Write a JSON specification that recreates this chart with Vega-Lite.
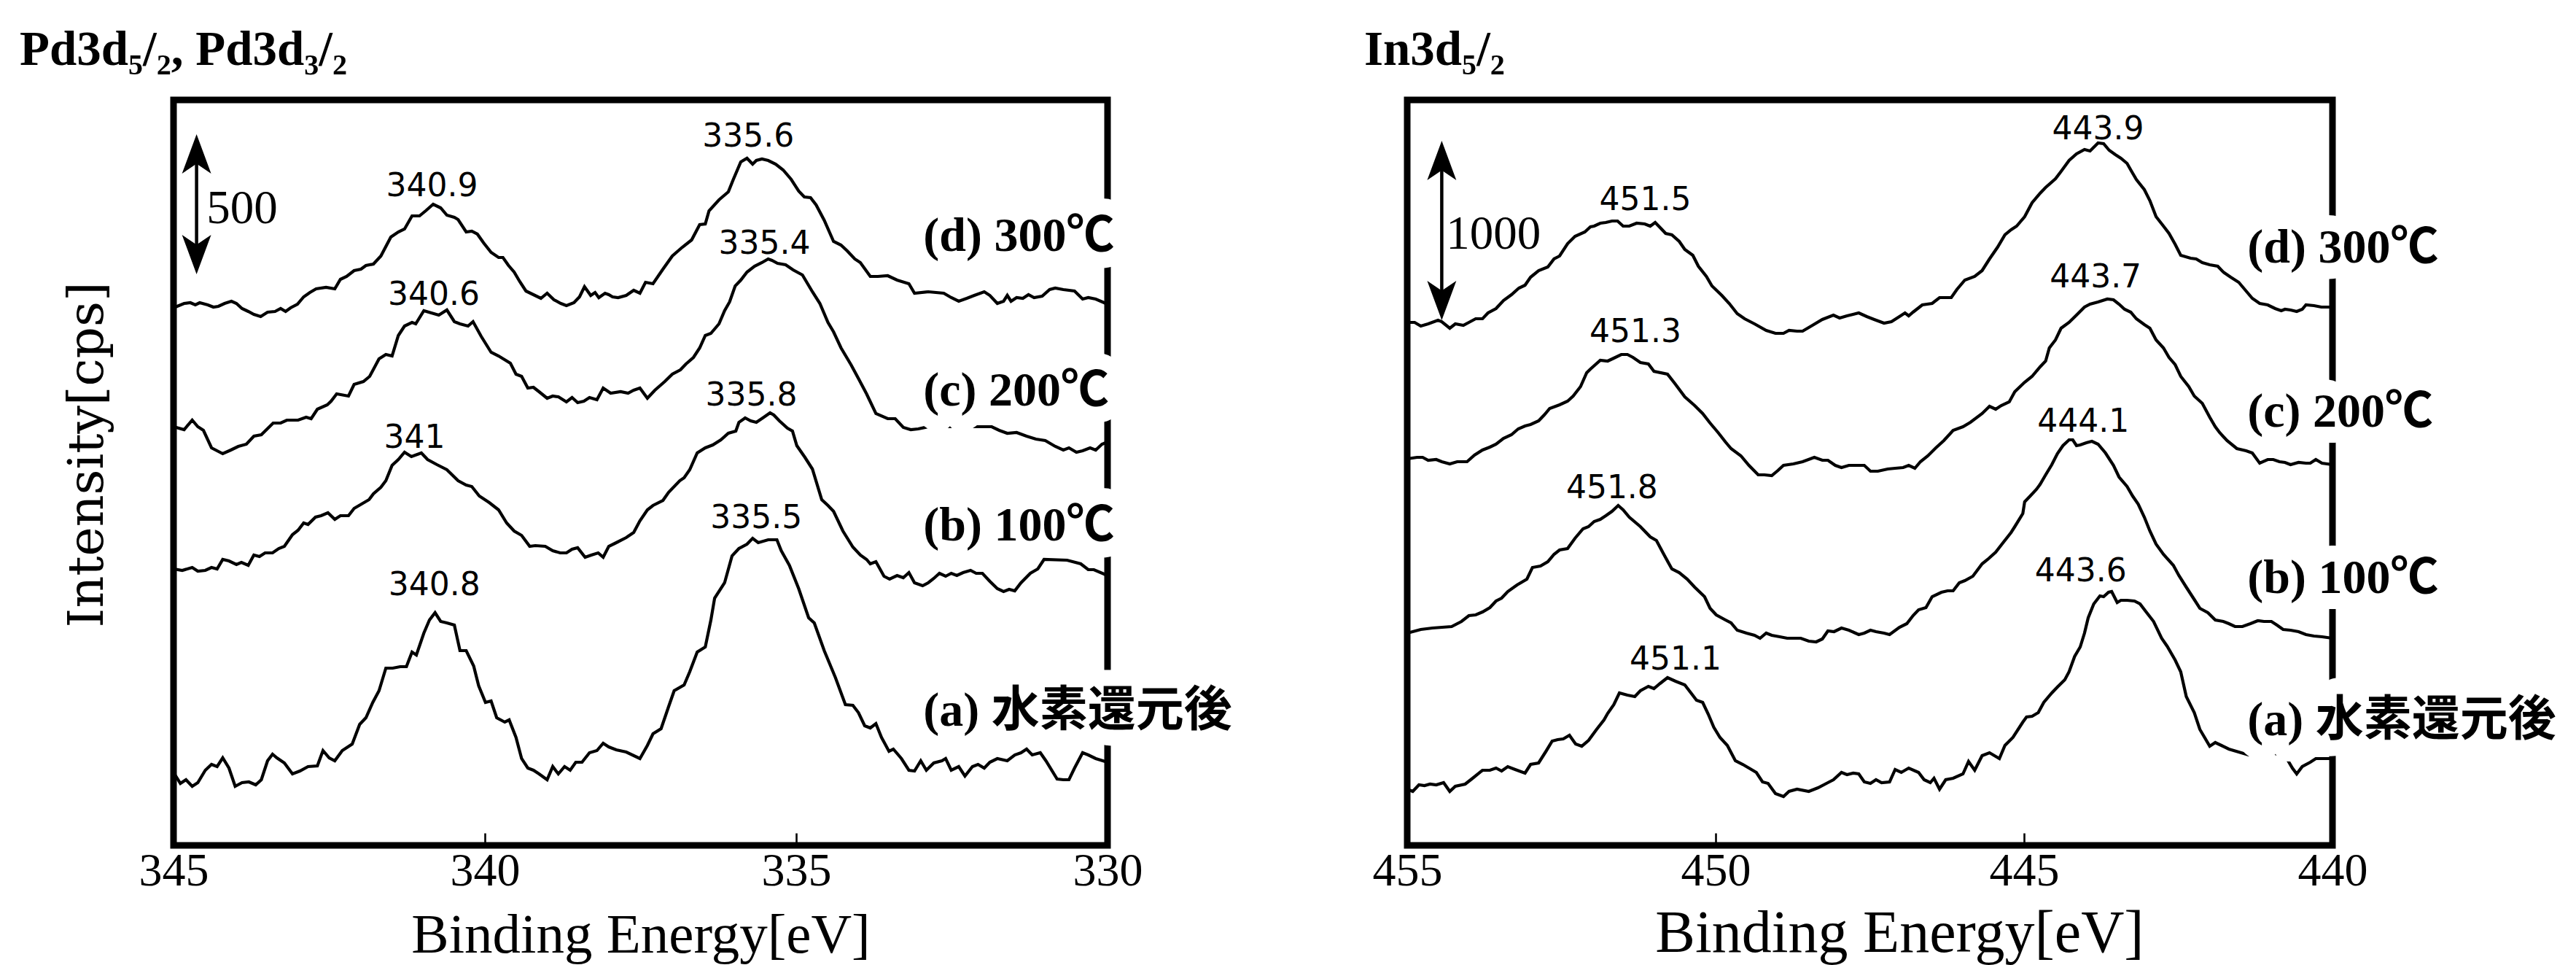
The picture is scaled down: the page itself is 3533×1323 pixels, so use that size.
{
"$schema":"https://vega.github.io/schema/vega-lite/v6.json",
"background":"white",
"padding":{"left":22,"top":30,"right":0,"bottom":0},
"config":{"view":{"stroke":"black","strokeWidth":9},"font":"Liberation Serif"},
"spacing":411,
"bounds":"flush",
"datasets":{
"pd":[
{"s":"d","e":345,"i":737},{"s":"d","e":344.83,"i":743},{"s":"d","e":344.73,"i":744},{"s":"d","e":344.65,"i":741},{"s":"d","e":344.58,"i":744},{"s":"d","e":344.45,"i":741},{"s":"d","e":344.36,"i":738},{"s":"d","e":344.28,"i":739},{"s":"d","e":344.18,"i":743},{"s":"d","e":344.07,"i":746},{"s":"d","e":343.99,"i":743},{"s":"d","e":343.9,"i":736},{"s":"d","e":343.8,"i":732},{"s":"d","e":343.71,"i":728},{"s":"d","e":343.6,"i":725},{"s":"d","e":343.49,"i":731},{"s":"d","e":343.37,"i":732},{"s":"d","e":343.28,"i":736},{"s":"d","e":343.2,"i":732},{"s":"d","e":343.12,"i":737},{"s":"d","e":343.01,"i":742},{"s":"d","e":342.91,"i":752},{"s":"d","e":342.81,"i":758},{"s":"d","e":342.71,"i":763},{"s":"d","e":342.55,"i":765},{"s":"d","e":342.41,"i":763},{"s":"d","e":342.32,"i":776},{"s":"d","e":342.22,"i":780},{"s":"d","e":342.1,"i":788},{"s":"d","e":341.99,"i":790},{"s":"d","e":341.91,"i":795},{"s":"d","e":341.79,"i":797},{"s":"d","e":341.67,"i":808},{"s":"d","e":341.51,"i":834},{"s":"d","e":341.39,"i":841},{"s":"d","e":341.29,"i":845},{"s":"d","e":341.17,"i":863},{"s":"d","e":341.05,"i":863},{"s":"d","e":340.95,"i":870},{"s":"d","e":340.83,"i":879},{"s":"d","e":340.71,"i":874},{"s":"d","e":340.61,"i":864},{"s":"d","e":340.49,"i":861},{"s":"d","e":340.43,"i":858},{"s":"d","e":340.3,"i":841},{"s":"d","e":340.21,"i":842},{"s":"d","e":340.12,"i":838},{"s":"d","e":340.02,"i":826},{"s":"d","e":339.9,"i":813},{"s":"d","e":339.78,"i":806},{"s":"d","e":339.71,"i":806},{"s":"d","e":339.62,"i":795},{"s":"d","e":339.53,"i":786},{"s":"d","e":339.44,"i":773},{"s":"d","e":339.34,"i":760},{"s":"d","e":339.22,"i":755},{"s":"d","e":339.1,"i":750},{"s":"d","e":339,"i":757},{"s":"d","e":338.89,"i":748},{"s":"d","e":338.78,"i":743},{"s":"d","e":338.69,"i":740},{"s":"d","e":338.57,"i":744},{"s":"d","e":338.48,"i":752},{"s":"d","e":338.4,"i":766},{"s":"d","e":338.3,"i":754},{"s":"d","e":338.23,"i":758},{"s":"d","e":338.17,"i":751},{"s":"d","e":338.07,"i":757},{"s":"d","e":338.01,"i":755},{"s":"d","e":337.95,"i":752},{"s":"d","e":337.86,"i":751},{"s":"d","e":337.73,"i":754},{"s":"d","e":337.61,"i":761},{"s":"d","e":337.51,"i":757},{"s":"d","e":337.42,"i":772},{"s":"d","e":337.3,"i":770},{"s":"d","e":337.14,"i":790},{"s":"d","e":336.99,"i":808},{"s":"d","e":336.83,"i":820},{"s":"d","e":336.68,"i":830},{"s":"d","e":336.55,"i":851},{"s":"d","e":336.46,"i":852},{"s":"d","e":336.4,"i":870},{"s":"d","e":336.24,"i":885},{"s":"d","e":336.09,"i":896},{"s":"d","e":336.01,"i":913},{"s":"d","e":335.89,"i":937},{"s":"d","e":335.79,"i":942},{"s":"d","e":335.7,"i":934},{"s":"d","e":335.64,"i":939},{"s":"d","e":335.55,"i":941},{"s":"d","e":335.45,"i":939},{"s":"d","e":335.33,"i":934},{"s":"d","e":335.21,"i":926},{"s":"d","e":335.08,"i":913},{"s":"d","e":334.96,"i":897},{"s":"d","e":334.87,"i":889},{"s":"d","e":334.77,"i":888},{"s":"d","e":334.68,"i":878},{"s":"d","e":334.55,"i":857},{"s":"d","e":334.4,"i":828},{"s":"d","e":334.28,"i":823},{"s":"d","e":334.18,"i":815},{"s":"d","e":334.06,"i":804},{"s":"d","e":333.97,"i":799},{"s":"d","e":333.81,"i":780},{"s":"d","e":333.69,"i":780},{"s":"d","e":333.53,"i":781},{"s":"d","e":333.38,"i":775},{"s":"d","e":333.19,"i":770},{"s":"d","e":333.1,"i":757},{"s":"d","e":332.88,"i":759},{"s":"d","e":332.63,"i":757},{"s":"d","e":332.51,"i":751},{"s":"d","e":332.39,"i":746},{"s":"d","e":332.26,"i":750},{"s":"d","e":332.14,"i":754},{"s":"d","e":331.98,"i":759},{"s":"d","e":331.89,"i":754},{"s":"d","e":331.77,"i":743},{"s":"d","e":331.67,"i":746},{"s":"d","e":331.61,"i":754},{"s":"d","e":331.55,"i":746},{"s":"d","e":331.46,"i":751},{"s":"d","e":331.36,"i":750},{"s":"d","e":331.27,"i":755},{"s":"d","e":331.18,"i":751},{"s":"d","e":331.05,"i":753},{"s":"d","e":330.93,"i":762},{"s":"d","e":330.84,"i":764},{"s":"d","e":330.71,"i":762},{"s":"d","e":330.53,"i":760},{"s":"d","e":330.4,"i":749},{"s":"d","e":330.31,"i":751},{"s":"d","e":330.19,"i":749},{"s":"d","e":330,"i":742},
{"s":"c","e":345,"i":574},{"s":"c","e":344.83,"i":570},{"s":"c","e":344.7,"i":583},{"s":"c","e":344.61,"i":574},{"s":"c","e":344.52,"i":569},{"s":"c","e":344.39,"i":545},{"s":"c","e":344.21,"i":537},{"s":"c","e":344.08,"i":542},{"s":"c","e":343.96,"i":547},{"s":"c","e":343.83,"i":550},{"s":"c","e":343.71,"i":561},{"s":"c","e":343.59,"i":563},{"s":"c","e":343.4,"i":579},{"s":"c","e":343.28,"i":579},{"s":"c","e":343.18,"i":583},{"s":"c","e":343,"i":583},{"s":"c","e":342.87,"i":587},{"s":"c","e":342.79,"i":585},{"s":"c","e":342.69,"i":598},{"s":"c","e":342.53,"i":604},{"s":"c","e":342.47,"i":609},{"s":"c","e":342.38,"i":619},{"s":"c","e":342.19,"i":616},{"s":"c","e":342.1,"i":632},{"s":"c","e":341.95,"i":636},{"s":"c","e":341.85,"i":643},{"s":"c","e":341.7,"i":667},{"s":"c","e":341.59,"i":673},{"s":"c","e":341.49,"i":671},{"s":"c","e":341.39,"i":699},{"s":"c","e":341.29,"i":712},{"s":"c","e":341.17,"i":717},{"s":"c","e":341.11,"i":715},{"s":"c","e":340.98,"i":733},{"s":"c","e":340.86,"i":730},{"s":"c","e":340.74,"i":727},{"s":"c","e":340.61,"i":734},{"s":"c","e":340.49,"i":718},{"s":"c","e":340.4,"i":715},{"s":"c","e":340.27,"i":712},{"s":"c","e":340.19,"i":718},{"s":"c","e":340.06,"i":698},{"s":"c","e":339.9,"i":676},{"s":"c","e":339.78,"i":671},{"s":"c","e":339.59,"i":661},{"s":"c","e":339.5,"i":646},{"s":"c","e":339.41,"i":643},{"s":"c","e":339.31,"i":627},{"s":"c","e":339.22,"i":628},{"s":"c","e":339.13,"i":622},{"s":"c","e":339,"i":613},{"s":"c","e":338.91,"i":616},{"s":"c","e":338.82,"i":615},{"s":"c","e":338.69,"i":608},{"s":"c","e":338.6,"i":614},{"s":"c","e":338.51,"i":607},{"s":"c","e":338.41,"i":609},{"s":"c","e":338.32,"i":614},{"s":"c","e":338.2,"i":611},{"s":"c","e":338.1,"i":627},{"s":"c","e":337.98,"i":620},{"s":"c","e":337.82,"i":622},{"s":"c","e":337.7,"i":620},{"s":"c","e":337.61,"i":624},{"s":"c","e":337.51,"i":627},{"s":"c","e":337.39,"i":613},{"s":"c","e":337.27,"i":624},{"s":"c","e":337.11,"i":636},{"s":"c","e":336.99,"i":646},{"s":"c","e":336.86,"i":652},{"s":"c","e":336.77,"i":660},{"s":"c","e":336.65,"i":669},{"s":"c","e":336.55,"i":682},{"s":"c","e":336.46,"i":699},{"s":"c","e":336.37,"i":702},{"s":"c","e":336.24,"i":715},{"s":"c","e":336.15,"i":733},{"s":"c","e":336.07,"i":745},{"s":"c","e":335.98,"i":767},{"s":"c","e":335.89,"i":775},{"s":"c","e":335.79,"i":786},{"s":"c","e":335.67,"i":794},{"s":"c","e":335.55,"i":799},{"s":"c","e":335.45,"i":804},{"s":"c","e":335.39,"i":802},{"s":"c","e":335.3,"i":798},{"s":"c","e":335.17,"i":796},{"s":"c","e":335.05,"i":789},{"s":"c","e":334.9,"i":782},{"s":"c","e":334.74,"i":759},{"s":"c","e":334.62,"i":743},{"s":"c","e":334.49,"i":717},{"s":"c","e":334.4,"i":704},{"s":"c","e":334.28,"i":682},{"s":"c","e":334.12,"i":659},{"s":"c","e":334,"i":640},{"s":"c","e":333.87,"i":619},{"s":"c","e":333.72,"i":592},{"s":"c","e":333.53,"i":585},{"s":"c","e":333.41,"i":585},{"s":"c","e":333.28,"i":573},{"s":"c","e":333.16,"i":570},{"s":"c","e":333.04,"i":571},{"s":"c","e":332.88,"i":574},{"s":"c","e":331.86,"i":574},{"s":"c","e":331.74,"i":569},{"s":"c","e":331.61,"i":565},{"s":"c","e":331.46,"i":566},{"s":"c","e":331.3,"i":561},{"s":"c","e":331.15,"i":557},{"s":"c","e":331,"i":555},{"s":"c","e":330.84,"i":547},{"s":"c","e":330.71,"i":542},{"s":"c","e":330.62,"i":545},{"s":"c","e":330.5,"i":539},{"s":"c","e":330.4,"i":541},{"s":"c","e":330.28,"i":545},{"s":"c","e":330.19,"i":542},{"s":"c","e":330.09,"i":550},{"s":"c","e":330,"i":553},
{"s":"b","e":345,"i":379},{"s":"b","e":344.86,"i":377},{"s":"b","e":344.7,"i":381},{"s":"b","e":344.61,"i":376},{"s":"b","e":344.49,"i":377},{"s":"b","e":344.39,"i":381},{"s":"b","e":344.3,"i":379},{"s":"b","e":344.21,"i":392},{"s":"b","e":344.11,"i":390},{"s":"b","e":343.99,"i":385},{"s":"b","e":343.91,"i":388},{"s":"b","e":343.8,"i":384},{"s":"b","e":343.71,"i":398},{"s":"b","e":343.62,"i":396},{"s":"b","e":343.53,"i":401},{"s":"b","e":343.41,"i":401},{"s":"b","e":343.31,"i":407},{"s":"b","e":343.22,"i":410},{"s":"b","e":343.09,"i":426},{"s":"b","e":343,"i":432},{"s":"b","e":342.91,"i":442},{"s":"b","e":342.84,"i":440},{"s":"b","e":342.72,"i":450},{"s":"b","e":342.63,"i":452},{"s":"b","e":342.52,"i":456},{"s":"b","e":342.41,"i":447},{"s":"b","e":342.32,"i":452},{"s":"b","e":342.19,"i":452},{"s":"b","e":342.1,"i":462},{"s":"b","e":341.98,"i":468},{"s":"b","e":341.86,"i":474},{"s":"b","e":341.79,"i":482},{"s":"b","e":341.67,"i":491},{"s":"b","e":341.59,"i":500},{"s":"b","e":341.49,"i":521},{"s":"b","e":341.39,"i":529},{"s":"b","e":341.29,"i":539},{"s":"b","e":341.18,"i":533},{"s":"b","e":341.02,"i":538},{"s":"b","e":340.92,"i":529},{"s":"b","e":340.77,"i":522},{"s":"b","e":340.61,"i":515},{"s":"b","e":340.43,"i":500},{"s":"b","e":340.3,"i":494},{"s":"b","e":340.21,"i":492},{"s":"b","e":340.09,"i":479},{"s":"b","e":339.93,"i":470},{"s":"b","e":339.78,"i":460},{"s":"b","e":339.65,"i":442},{"s":"b","e":339.53,"i":431},{"s":"b","e":339.41,"i":425},{"s":"b","e":339.28,"i":410},{"s":"b","e":339.19,"i":411},{"s":"b","e":339.03,"i":410},{"s":"b","e":338.91,"i":404},{"s":"b","e":338.79,"i":401},{"s":"b","e":338.69,"i":401},{"s":"b","e":338.6,"i":406},{"s":"b","e":338.51,"i":408},{"s":"b","e":338.39,"i":395},{"s":"b","e":338.29,"i":398},{"s":"b","e":338.18,"i":401},{"s":"b","e":338.1,"i":395},{"s":"b","e":338.01,"i":410},{"s":"b","e":337.89,"i":415},{"s":"b","e":337.73,"i":422},{"s":"b","e":337.61,"i":429},{"s":"b","e":337.51,"i":445},{"s":"b","e":337.39,"i":460},{"s":"b","e":337.3,"i":466},{"s":"b","e":337.14,"i":473},{"s":"b","e":337.05,"i":484},{"s":"b","e":336.87,"i":500},{"s":"b","e":336.8,"i":504},{"s":"b","e":336.71,"i":515},{"s":"b","e":336.59,"i":538},{"s":"b","e":336.46,"i":545},{"s":"b","e":336.34,"i":549},{"s":"b","e":336.21,"i":556},{"s":"b","e":336.09,"i":565},{"s":"b","e":335.97,"i":568},{"s":"b","e":335.92,"i":580},{"s":"b","e":335.82,"i":586},{"s":"b","e":335.73,"i":582},{"s":"b","e":335.64,"i":580},{"s":"b","e":335.52,"i":587},{"s":"b","e":335.42,"i":593},{"s":"b","e":335.36,"i":590},{"s":"b","e":335.27,"i":582},{"s":"b","e":335.14,"i":572},{"s":"b","e":335.06,"i":568},{"s":"b","e":334.99,"i":548},{"s":"b","e":334.86,"i":532},{"s":"b","e":334.74,"i":516},{"s":"b","e":334.59,"i":474},{"s":"b","e":334.49,"i":466},{"s":"b","e":334.4,"i":458},{"s":"b","e":334.25,"i":431},{"s":"b","e":334.09,"i":409},{"s":"b","e":333.97,"i":398},{"s":"b","e":333.87,"i":392},{"s":"b","e":333.81,"i":386},{"s":"b","e":333.72,"i":389},{"s":"b","e":333.59,"i":369},{"s":"b","e":333.5,"i":365},{"s":"b","e":333.38,"i":370},{"s":"b","e":333.28,"i":367},{"s":"b","e":333.19,"i":374},{"s":"b","e":333.1,"i":360},{"s":"b","e":332.97,"i":356},{"s":"b","e":332.88,"i":360},{"s":"b","e":332.79,"i":366},{"s":"b","e":332.7,"i":373},{"s":"b","e":332.6,"i":369},{"s":"b","e":332.51,"i":373},{"s":"b","e":332.42,"i":370},{"s":"b","e":332.32,"i":374},{"s":"b","e":332.2,"i":377},{"s":"b","e":332.11,"i":373},{"s":"b","e":332.01,"i":373},{"s":"b","e":331.89,"i":362},{"s":"b","e":331.77,"i":352},{"s":"b","e":331.67,"i":348},{"s":"b","e":331.58,"i":351},{"s":"b","e":331.49,"i":349},{"s":"b","e":331.39,"i":360},{"s":"b","e":331.24,"i":373},{"s":"b","e":331.12,"i":379},{"s":"b","e":331.02,"i":392},{"s":"b","e":330.65,"i":391},{"s":"b","e":330.43,"i":386},{"s":"b","e":330.31,"i":378},{"s":"b","e":330.22,"i":378},{"s":"b","e":330,"i":370},
{"s":"a","e":345,"i":100},{"s":"a","e":344.89,"i":85},{"s":"a","e":344.8,"i":90},{"s":"a","e":344.7,"i":81},{"s":"a","e":344.61,"i":86},{"s":"a","e":344.49,"i":103},{"s":"a","e":344.39,"i":111},{"s":"a","e":344.3,"i":108},{"s":"a","e":344.21,"i":120},{"s":"a","e":344.11,"i":106},{"s":"a","e":344.01,"i":81},{"s":"a","e":343.9,"i":86},{"s":"a","e":343.79,"i":87},{"s":"a","e":343.68,"i":83},{"s":"a","e":343.59,"i":90},{"s":"a","e":343.49,"i":116},{"s":"a","e":343.41,"i":125},{"s":"a","e":343.34,"i":120},{"s":"a","e":343.22,"i":113},{"s":"a","e":343.09,"i":98},{"s":"a","e":342.97,"i":102},{"s":"a","e":342.84,"i":108},{"s":"a","e":342.69,"i":109},{"s":"a","e":342.6,"i":130},{"s":"a","e":342.5,"i":120},{"s":"a","e":342.41,"i":116},{"s":"a","e":342.29,"i":130},{"s":"a","e":342.13,"i":139},{"s":"a","e":342.01,"i":166},{"s":"a","e":341.91,"i":175},{"s":"a","e":341.8,"i":196},{"s":"a","e":341.7,"i":212},{"s":"a","e":341.59,"i":243},{"s":"a","e":341.48,"i":243},{"s":"a","e":341.36,"i":245},{"s":"a","e":341.26,"i":245},{"s":"a","e":341.17,"i":265},{"s":"a","e":341.1,"i":261},{"s":"a","e":340.98,"i":291},{"s":"a","e":340.89,"i":309},{"s":"a","e":340.8,"i":319},{"s":"a","e":340.71,"i":307},{"s":"a","e":340.61,"i":305},{"s":"a","e":340.49,"i":302},{"s":"a","e":340.4,"i":267},{"s":"a","e":340.3,"i":267},{"s":"a","e":340.18,"i":246},{"s":"a","e":340.1,"i":219},{"s":"a","e":339.99,"i":196},{"s":"a","e":339.9,"i":198},{"s":"a","e":339.81,"i":175},{"s":"a","e":339.68,"i":169},{"s":"a","e":339.61,"i":172},{"s":"a","e":339.5,"i":148},{"s":"a","e":339.41,"i":119},{"s":"a","e":339.31,"i":106},{"s":"a","e":339.22,"i":103},{"s":"a","e":339.13,"i":98},{"s":"a","e":339,"i":90},{"s":"a","e":338.91,"i":108},{"s":"a","e":338.82,"i":98},{"s":"a","e":338.72,"i":108},{"s":"a","e":338.63,"i":103},{"s":"a","e":338.54,"i":114},{"s":"a","e":338.44,"i":114},{"s":"a","e":338.32,"i":127},{"s":"a","e":338.2,"i":130},{"s":"a","e":338.1,"i":140},{"s":"a","e":338.01,"i":135},{"s":"a","e":337.89,"i":131},{"s":"a","e":337.73,"i":128},{"s":"a","e":337.51,"i":119},{"s":"a","e":337.39,"i":137},{"s":"a","e":337.3,"i":153},{"s":"a","e":337.17,"i":160},{"s":"a","e":337.05,"i":190},{"s":"a","e":336.96,"i":212},{"s":"a","e":336.8,"i":220},{"s":"a","e":336.71,"i":238},{"s":"a","e":336.59,"i":265},{"s":"a","e":336.46,"i":272},{"s":"a","e":336.37,"i":309},{"s":"a","e":336.31,"i":339},{"s":"a","e":336.15,"i":360},{"s":"a","e":336.03,"i":397},{"s":"a","e":335.92,"i":407},{"s":"a","e":335.79,"i":413},{"s":"a","e":335.7,"i":421},{"s":"a","e":335.61,"i":415},{"s":"a","e":335.45,"i":419},{"s":"a","e":335.31,"i":419},{"s":"a","e":335.24,"i":404},{"s":"a","e":335.11,"i":384},{"s":"a","e":334.96,"i":352},{"s":"a","e":334.8,"i":312},{"s":"a","e":334.71,"i":305},{"s":"a","e":334.55,"i":267},{"s":"a","e":334.37,"i":230},{"s":"a","e":334.21,"i":193},{"s":"a","e":334.09,"i":192},{"s":"a","e":334,"i":182},{"s":"a","e":333.9,"i":164},{"s":"a","e":333.81,"i":161},{"s":"a","e":333.72,"i":167},{"s":"a","e":333.63,"i":148},{"s":"a","e":333.51,"i":129},{"s":"a","e":333.44,"i":132},{"s":"a","e":333.31,"i":119},{"s":"a","e":333.19,"i":103},{"s":"a","e":333.1,"i":102},{"s":"a","e":333,"i":116},{"s":"a","e":332.91,"i":103},{"s":"a","e":332.79,"i":113},{"s":"a","e":332.66,"i":116},{"s":"a","e":332.6,"i":119},{"s":"a","e":332.51,"i":103},{"s":"a","e":332.39,"i":108},{"s":"a","e":332.29,"i":95},{"s":"a","e":332.17,"i":108},{"s":"a","e":332.08,"i":111},{"s":"a","e":331.98,"i":106},{"s":"a","e":331.89,"i":114},{"s":"a","e":331.77,"i":119},{"s":"a","e":331.61,"i":116},{"s":"a","e":331.49,"i":124},{"s":"a","e":331.39,"i":127},{"s":"a","e":331.3,"i":132},{"s":"a","e":331.21,"i":124},{"s":"a","e":331.08,"i":127},{"s":"a","e":330.99,"i":116},{"s":"a","e":330.81,"i":91},{"s":"a","e":330.71,"i":90},{"s":"a","e":330.62,"i":90},{"s":"a","e":330.53,"i":106},{"s":"a","e":330.4,"i":127},{"s":"a","e":330.31,"i":124},{"s":"a","e":330.19,"i":119},{"s":"a","e":330,"i":114}
],
"ind":[
{"s":"d","e":455,"i":717},{"s":"d","e":454.88,"i":717},{"s":"d","e":454.78,"i":712},{"s":"d","e":454.66,"i":715},{"s":"d","e":454.5,"i":720},{"s":"d","e":454.44,"i":718},{"s":"d","e":454.31,"i":709},{"s":"d","e":454.22,"i":715},{"s":"d","e":454.09,"i":713},{"s":"d","e":454,"i":717},{"s":"d","e":453.89,"i":722},{"s":"d","e":453.78,"i":722},{"s":"d","e":453.69,"i":730},{"s":"d","e":453.56,"i":736},{"s":"d","e":453.44,"i":747},{"s":"d","e":453.31,"i":755},{"s":"d","e":453.19,"i":764},{"s":"d","e":453.09,"i":768},{"s":"d","e":453,"i":779},{"s":"d","e":452.87,"i":788},{"s":"d","e":452.72,"i":793},{"s":"d","e":452.62,"i":804},{"s":"d","e":452.53,"i":808},{"s":"d","e":452.4,"i":825},{"s":"d","e":452.28,"i":835},{"s":"d","e":452.12,"i":841},{"s":"d","e":452.03,"i":848},{"s":"d","e":451.97,"i":849},{"s":"d","e":451.87,"i":853},{"s":"d","e":451.78,"i":854},{"s":"d","e":451.68,"i":856},{"s":"d","e":451.59,"i":856},{"s":"d","e":451.5,"i":849},{"s":"d","e":451.4,"i":849},{"s":"d","e":451.28,"i":853},{"s":"d","e":451.15,"i":852},{"s":"d","e":451.06,"i":849},{"s":"d","e":450.98,"i":854},{"s":"d","e":450.9,"i":847},{"s":"d","e":450.81,"i":839},{"s":"d","e":450.71,"i":837},{"s":"d","e":450.59,"i":828},{"s":"d","e":450.5,"i":817},{"s":"d","e":450.37,"i":809},{"s":"d","e":450.28,"i":794},{"s":"d","e":450.15,"i":780},{"s":"d","e":450.06,"i":767},{"s":"d","e":449.9,"i":754},{"s":"d","e":449.78,"i":743},{"s":"d","e":449.65,"i":729},{"s":"d","e":449.53,"i":722},{"s":"d","e":449.37,"i":715},{"s":"d","e":449.18,"i":706},{"s":"d","e":449.03,"i":702},{"s":"d","e":448.9,"i":702},{"s":"d","e":448.81,"i":706},{"s":"d","e":448.68,"i":705},{"s":"d","e":448.59,"i":705},{"s":"d","e":448.43,"i":713},{"s":"d","e":448.27,"i":721},{"s":"d","e":448.09,"i":727},{"s":"d","e":447.99,"i":723},{"s":"d","e":447.87,"i":726},{"s":"d","e":447.68,"i":730},{"s":"d","e":447.55,"i":725},{"s":"d","e":447.43,"i":721},{"s":"d","e":447.27,"i":716},{"s":"d","e":447.15,"i":718},{"s":"d","e":447.02,"i":725},{"s":"d","e":446.93,"i":730},{"s":"d","e":446.87,"i":726},{"s":"d","e":446.8,"i":731},{"s":"d","e":446.65,"i":741},{"s":"d","e":446.49,"i":743},{"s":"d","e":446.37,"i":751},{"s":"d","e":446.18,"i":751},{"s":"d","e":446.09,"i":762},{"s":"d","e":445.96,"i":775},{"s":"d","e":445.8,"i":780},{"s":"d","e":445.68,"i":788},{"s":"d","e":445.56,"i":804},{"s":"d","e":445.43,"i":820},{"s":"d","e":445.31,"i":837},{"s":"d","e":445.21,"i":844},{"s":"d","e":445.12,"i":849},{"s":"d","e":444.99,"i":862},{"s":"d","e":444.87,"i":881},{"s":"d","e":444.74,"i":894},{"s":"d","e":444.65,"i":902},{"s":"d","e":444.49,"i":914},{"s":"d","e":444.4,"i":924},{"s":"d","e":444.27,"i":939},{"s":"d","e":444.15,"i":948},{"s":"d","e":444.02,"i":954},{"s":"d","e":443.93,"i":952},{"s":"d","e":443.8,"i":963},{"s":"d","e":443.71,"i":962},{"s":"d","e":443.62,"i":953},{"s":"d","e":443.52,"i":947},{"s":"d","e":443.43,"i":942},{"s":"d","e":443.33,"i":935},{"s":"d","e":443.27,"i":926},{"s":"d","e":443.18,"i":913},{"s":"d","e":443.05,"i":899},{"s":"d","e":442.96,"i":884},{"s":"d","e":442.86,"i":862},{"s":"d","e":442.74,"i":849},{"s":"d","e":442.65,"i":839},{"s":"d","e":442.55,"i":824},{"s":"d","e":442.46,"i":809},{"s":"d","e":442.3,"i":805},{"s":"d","e":442.21,"i":804},{"s":"d","e":442.11,"i":799},{"s":"d","e":441.99,"i":796},{"s":"d","e":441.86,"i":794},{"s":"d","e":441.77,"i":786},{"s":"d","e":441.65,"i":779},{"s":"d","e":441.52,"i":772},{"s":"d","e":441.43,"i":763},{"s":"d","e":441.3,"i":750},{"s":"d","e":441.18,"i":743},{"s":"d","e":441.05,"i":741},{"s":"d","e":440.93,"i":736},{"s":"d","e":440.83,"i":733},{"s":"d","e":440.77,"i":735},{"s":"d","e":440.68,"i":734},{"s":"d","e":440.58,"i":732},{"s":"d","e":440.49,"i":735},{"s":"d","e":440.43,"i":741},{"s":"d","e":440.3,"i":740},{"s":"d","e":440.18,"i":738},{"s":"d","e":440,"i":738},
{"s":"c","e":455,"i":530},{"s":"c","e":454.84,"i":532},{"s":"c","e":454.75,"i":532},{"s":"c","e":454.66,"i":528},{"s":"c","e":454.53,"i":529},{"s":"c","e":454.44,"i":526},{"s":"c","e":454.31,"i":523},{"s":"c","e":454.19,"i":526},{"s":"c","e":454.03,"i":526},{"s":"c","e":453.91,"i":535},{"s":"c","e":453.78,"i":542},{"s":"c","e":453.66,"i":546},{"s":"c","e":453.56,"i":550},{"s":"c","e":453.44,"i":558},{"s":"c","e":453.31,"i":563},{"s":"c","e":453.2,"i":571},{"s":"c","e":453.09,"i":575},{"s":"c","e":453,"i":577},{"s":"c","e":452.87,"i":582},{"s":"c","e":452.78,"i":590},{"s":"c","e":452.69,"i":599},{"s":"c","e":452.53,"i":604},{"s":"c","e":452.4,"i":609},{"s":"c","e":452.31,"i":616},{"s":"c","e":452.19,"i":629},{"s":"c","e":452.09,"i":648},{"s":"c","e":452.03,"i":653},{"s":"c","e":451.87,"i":665},{"s":"c","e":451.75,"i":664},{"s":"c","e":451.65,"i":668},{"s":"c","e":451.53,"i":673},{"s":"c","e":451.43,"i":673},{"s":"c","e":451.34,"i":669},{"s":"c","e":451.22,"i":662},{"s":"c","e":451.09,"i":660},{"s":"c","e":451,"i":650},{"s":"c","e":450.78,"i":646},{"s":"c","e":450.65,"i":632},{"s":"c","e":450.5,"i":615},{"s":"c","e":450.34,"i":603},{"s":"c","e":450.21,"i":592},{"s":"c","e":450.09,"i":579},{"s":"c","e":449.96,"i":566},{"s":"c","e":449.84,"i":553},{"s":"c","e":449.75,"i":544},{"s":"c","e":449.59,"i":534},{"s":"c","e":449.46,"i":521},{"s":"c","e":449.31,"i":508},{"s":"c","e":449.21,"i":508},{"s":"c","e":449.09,"i":507},{"s":"c","e":448.99,"i":514},{"s":"c","e":448.9,"i":521},{"s":"c","e":448.74,"i":523},{"s":"c","e":448.59,"i":526},{"s":"c","e":448.4,"i":532},{"s":"c","e":448.27,"i":528},{"s":"c","e":448.18,"i":528},{"s":"c","e":448.06,"i":521},{"s":"c","e":447.96,"i":518},{"s":"c","e":447.84,"i":521},{"s":"c","e":447.71,"i":521},{"s":"c","e":447.59,"i":521},{"s":"c","e":447.49,"i":513},{"s":"c","e":447.37,"i":513},{"s":"c","e":447.21,"i":516},{"s":"c","e":447.09,"i":517},{"s":"c","e":446.96,"i":518},{"s":"c","e":446.87,"i":521},{"s":"c","e":446.77,"i":517},{"s":"c","e":446.68,"i":526},{"s":"c","e":446.56,"i":534},{"s":"c","e":446.43,"i":545},{"s":"c","e":446.3,"i":555},{"s":"c","e":446.15,"i":569},{"s":"c","e":445.99,"i":574},{"s":"c","e":445.87,"i":580},{"s":"c","e":445.68,"i":592},{"s":"c","e":445.56,"i":602},{"s":"c","e":445.46,"i":598},{"s":"c","e":445.37,"i":603},{"s":"c","e":445.24,"i":608},{"s":"c","e":445.15,"i":622},{"s":"c","e":444.99,"i":635},{"s":"c","e":444.87,"i":643},{"s":"c","e":444.74,"i":656},{"s":"c","e":444.65,"i":664},{"s":"c","e":444.59,"i":682},{"s":"c","e":444.49,"i":693},{"s":"c","e":444.4,"i":709},{"s":"c","e":444.27,"i":717},{"s":"c","e":444.15,"i":727},{"s":"c","e":444.02,"i":738},{"s":"c","e":443.93,"i":742},{"s":"c","e":443.8,"i":745},{"s":"c","e":443.65,"i":749},{"s":"c","e":443.55,"i":748},{"s":"c","e":443.46,"i":742},{"s":"c","e":443.37,"i":735},{"s":"c","e":443.27,"i":731},{"s":"c","e":443.18,"i":722},{"s":"c","e":443.05,"i":714},{"s":"c","e":442.96,"i":709},{"s":"c","e":442.86,"i":693},{"s":"c","e":442.74,"i":682},{"s":"c","e":442.65,"i":669},{"s":"c","e":442.55,"i":659},{"s":"c","e":442.46,"i":643},{"s":"c","e":442.33,"i":629},{"s":"c","e":442.24,"i":616},{"s":"c","e":442.11,"i":606},{"s":"c","e":441.99,"i":587},{"s":"c","e":441.9,"i":574},{"s":"c","e":441.83,"i":566},{"s":"c","e":441.71,"i":555},{"s":"c","e":441.55,"i":544},{"s":"c","e":441.4,"i":541},{"s":"c","e":441.3,"i":538},{"s":"c","e":441.18,"i":524},{"s":"c","e":441.05,"i":529},{"s":"c","e":440.96,"i":529},{"s":"c","e":440.86,"i":526},{"s":"c","e":440.77,"i":525},{"s":"c","e":440.68,"i":522},{"s":"c","e":440.55,"i":525},{"s":"c","e":440.43,"i":524},{"s":"c","e":440.36,"i":524},{"s":"c","e":440.27,"i":529},{"s":"c","e":440.17,"i":524},{"s":"c","e":440,"i":522},
{"s":"b","e":455,"i":291},{"s":"b","e":454.78,"i":296},{"s":"b","e":454.59,"i":298},{"s":"b","e":454.28,"i":300},{"s":"b","e":454.12,"i":307},{"s":"b","e":454,"i":315},{"s":"b","e":453.89,"i":316},{"s":"b","e":453.78,"i":320},{"s":"b","e":453.66,"i":326},{"s":"b","e":453.56,"i":335},{"s":"b","e":453.47,"i":339},{"s":"b","e":453.37,"i":348},{"s":"b","e":453.22,"i":357},{"s":"b","e":453.06,"i":365},{"s":"b","e":452.97,"i":381},{"s":"b","e":452.84,"i":383},{"s":"b","e":452.72,"i":389},{"s":"b","e":452.62,"i":399},{"s":"b","e":452.53,"i":405},{"s":"b","e":452.4,"i":407},{"s":"b","e":452.28,"i":421},{"s":"b","e":452.15,"i":434},{"s":"b","e":452.06,"i":437},{"s":"b","e":451.97,"i":444},{"s":"b","e":451.87,"i":447},{"s":"b","e":451.78,"i":452},{"s":"b","e":451.68,"i":458},{"s":"b","e":451.58,"i":466},{"s":"b","e":451.5,"i":460},{"s":"b","e":451.4,"i":450},{"s":"b","e":451.22,"i":437},{"s":"b","e":451.06,"i":423},{"s":"b","e":450.96,"i":418},{"s":"b","e":450.84,"i":399},{"s":"b","e":450.71,"i":379},{"s":"b","e":450.59,"i":374},{"s":"b","e":450.46,"i":365},{"s":"b","e":450.34,"i":354},{"s":"b","e":450.18,"i":341},{"s":"b","e":450.09,"i":325},{"s":"b","e":449.99,"i":316},{"s":"b","e":449.84,"i":309},{"s":"b","e":449.75,"i":305},{"s":"b","e":449.65,"i":295},{"s":"b","e":449.5,"i":291},{"s":"b","e":449.37,"i":288},{"s":"b","e":449.28,"i":284},{"s":"b","e":449.18,"i":291},{"s":"b","e":449.09,"i":288},{"s":"b","e":448.96,"i":286},{"s":"b","e":448.84,"i":284},{"s":"b","e":448.71,"i":284},{"s":"b","e":448.62,"i":284},{"s":"b","e":448.49,"i":280},{"s":"b","e":448.37,"i":279},{"s":"b","e":448.27,"i":283},{"s":"b","e":448.18,"i":294},{"s":"b","e":448.08,"i":293},{"s":"b","e":447.96,"i":298},{"s":"b","e":447.84,"i":295},{"s":"b","e":447.68,"i":289},{"s":"b","e":447.59,"i":291},{"s":"b","e":447.49,"i":295},{"s":"b","e":447.4,"i":293},{"s":"b","e":447.27,"i":291},{"s":"b","e":447.18,"i":289},{"s":"b","e":447.02,"i":299},{"s":"b","e":446.9,"i":304},{"s":"b","e":446.8,"i":315},{"s":"b","e":446.71,"i":323},{"s":"b","e":446.59,"i":326},{"s":"b","e":446.49,"i":341},{"s":"b","e":446.34,"i":347},{"s":"b","e":446.24,"i":349},{"s":"b","e":446.15,"i":349},{"s":"b","e":446.05,"i":360},{"s":"b","e":445.96,"i":363},{"s":"b","e":445.83,"i":369},{"s":"b","e":445.68,"i":386},{"s":"b","e":445.59,"i":392},{"s":"b","e":445.46,"i":402},{"s":"b","e":445.34,"i":415},{"s":"b","e":445.21,"i":429},{"s":"b","e":445.15,"i":437},{"s":"b","e":445.02,"i":455},{"s":"b","e":444.99,"i":471},{"s":"b","e":444.9,"i":479},{"s":"b","e":444.8,"i":488},{"s":"b","e":444.74,"i":495},{"s":"b","e":444.65,"i":508},{"s":"b","e":444.55,"i":522},{"s":"b","e":444.46,"i":537},{"s":"b","e":444.37,"i":548},{"s":"b","e":444.27,"i":556},{"s":"b","e":444.21,"i":556},{"s":"b","e":444.15,"i":548},{"s":"b","e":444.09,"i":549},{"s":"b","e":443.99,"i":552},{"s":"b","e":443.9,"i":554},{"s":"b","e":443.8,"i":550},{"s":"b","e":443.68,"i":538},{"s":"b","e":443.55,"i":521},{"s":"b","e":443.46,"i":505},{"s":"b","e":443.33,"i":492},{"s":"b","e":443.24,"i":479},{"s":"b","e":443.15,"i":468},{"s":"b","e":443.05,"i":450},{"s":"b","e":442.96,"i":431},{"s":"b","e":442.86,"i":413},{"s":"b","e":442.74,"i":399},{"s":"b","e":442.58,"i":384},{"s":"b","e":442.49,"i":370},{"s":"b","e":442.37,"i":354},{"s":"b","e":442.24,"i":337},{"s":"b","e":442.15,"i":325},{"s":"b","e":442.02,"i":319},{"s":"b","e":441.9,"i":309},{"s":"b","e":441.77,"i":307},{"s":"b","e":441.68,"i":304},{"s":"b","e":441.58,"i":300},{"s":"b","e":441.46,"i":300},{"s":"b","e":441.33,"i":304},{"s":"b","e":441.21,"i":308},{"s":"b","e":441.11,"i":307},{"s":"b","e":440.99,"i":307},{"s":"b","e":440.9,"i":302},{"s":"b","e":440.8,"i":296},{"s":"b","e":440.68,"i":295},{"s":"b","e":440.55,"i":293},{"s":"b","e":440.43,"i":289},{"s":"b","e":440.3,"i":287},{"s":"b","e":440.17,"i":286},{"s":"b","e":440,"i":284},
{"s":"a","e":455,"i":77},{"s":"a","e":454.91,"i":74},{"s":"a","e":454.81,"i":83},{"s":"a","e":454.72,"i":82},{"s":"a","e":454.63,"i":84},{"s":"a","e":454.53,"i":83},{"s":"a","e":454.41,"i":86},{"s":"a","e":454.31,"i":74},{"s":"a","e":454.22,"i":81},{"s":"a","e":454.06,"i":84},{"s":"a","e":453.94,"i":92},{"s":"a","e":453.78,"i":103},{"s":"a","e":453.66,"i":103},{"s":"a","e":453.56,"i":106},{"s":"a","e":453.47,"i":102},{"s":"a","e":453.37,"i":108},{"s":"a","e":453.25,"i":104},{"s":"a","e":453.09,"i":99},{"s":"a","e":453,"i":111},{"s":"a","e":452.87,"i":113},{"s":"a","e":452.75,"i":129},{"s":"a","e":452.65,"i":143},{"s":"a","e":452.56,"i":145},{"s":"a","e":452.47,"i":146},{"s":"a","e":452.37,"i":151},{"s":"a","e":452.27,"i":139},{"s":"a","e":452.17,"i":136},{"s":"a","e":452.06,"i":144},{"s":"a","e":451.93,"i":159},{"s":"a","e":451.81,"i":172},{"s":"a","e":451.75,"i":181},{"s":"a","e":451.65,"i":193},{"s":"a","e":451.56,"i":209},{"s":"a","e":451.43,"i":206},{"s":"a","e":451.31,"i":204},{"s":"a","e":451.22,"i":212},{"s":"a","e":451.09,"i":218},{"s":"a","e":451,"i":215},{"s":"a","e":450.9,"i":222},{"s":"a","e":450.78,"i":230},{"s":"a","e":450.65,"i":225},{"s":"a","e":450.5,"i":220},{"s":"a","e":450.4,"i":209},{"s":"a","e":450.31,"i":199},{"s":"a","e":450.21,"i":196},{"s":"a","e":450.12,"i":180},{"s":"a","e":450.03,"i":162},{"s":"a","e":449.93,"i":148},{"s":"a","e":449.81,"i":137},{"s":"a","e":449.68,"i":116},{"s":"a","e":449.56,"i":111},{"s":"a","e":449.46,"i":106},{"s":"a","e":449.34,"i":100},{"s":"a","e":449.24,"i":87},{"s":"a","e":449.15,"i":85},{"s":"a","e":449.03,"i":71},{"s":"a","e":448.9,"i":67},{"s":"a","e":448.81,"i":74},{"s":"a","e":448.68,"i":77},{"s":"a","e":448.49,"i":74},{"s":"a","e":448.34,"i":79},{"s":"a","e":448.18,"i":86},{"s":"a","e":448.09,"i":90},{"s":"a","e":447.96,"i":100},{"s":"a","e":447.87,"i":97},{"s":"a","e":447.77,"i":99},{"s":"a","e":447.68,"i":98},{"s":"a","e":447.59,"i":87},{"s":"a","e":447.49,"i":85},{"s":"a","e":447.4,"i":90},{"s":"a","e":447.31,"i":86},{"s":"a","e":447.18,"i":87},{"s":"a","e":447.09,"i":104},{"s":"a","e":446.99,"i":100},{"s":"a","e":446.87,"i":106},{"s":"a","e":446.71,"i":100},{"s":"a","e":446.62,"i":90},{"s":"a","e":446.52,"i":86},{"s":"a","e":446.46,"i":92},{"s":"a","e":446.37,"i":77},{"s":"a","e":446.27,"i":90},{"s":"a","e":446.15,"i":92},{"s":"a","e":445.99,"i":98},{"s":"a","e":445.9,"i":115},{"s":"a","e":445.8,"i":103},{"s":"a","e":445.68,"i":123},{"s":"a","e":445.56,"i":127},{"s":"a","e":445.4,"i":119},{"s":"a","e":445.31,"i":137},{"s":"a","e":445.18,"i":148},{"s":"a","e":445.02,"i":169},{"s":"a","e":444.96,"i":176},{"s":"a","e":444.87,"i":177},{"s":"a","e":444.77,"i":182},{"s":"a","e":444.68,"i":196},{"s":"a","e":444.55,"i":209},{"s":"a","e":444.46,"i":217},{"s":"a","e":444.34,"i":227},{"s":"a","e":444.27,"i":238},{"s":"a","e":444.18,"i":259},{"s":"a","e":444.09,"i":272},{"s":"a","e":444.02,"i":291},{"s":"a","e":443.96,"i":312},{"s":"a","e":443.87,"i":331},{"s":"a","e":443.77,"i":342},{"s":"a","e":443.71,"i":341},{"s":"a","e":443.63,"i":347},{"s":"a","e":443.58,"i":348},{"s":"a","e":443.49,"i":333},{"s":"a","e":443.43,"i":336},{"s":"a","e":443.33,"i":336},{"s":"a","e":443.21,"i":335},{"s":"a","e":443.12,"i":331},{"s":"a","e":443.02,"i":320},{"s":"a","e":442.9,"i":307},{"s":"a","e":442.77,"i":284},{"s":"a","e":442.68,"i":273},{"s":"a","e":442.55,"i":254},{"s":"a","e":442.46,"i":238},{"s":"a","e":442.37,"i":204},{"s":"a","e":442.24,"i":182},{"s":"a","e":442.15,"i":159},{"s":"a","e":441.99,"i":136},{"s":"a","e":441.9,"i":141},{"s":"a","e":441.8,"i":137},{"s":"a","e":441.68,"i":132},{"s":"a","e":441.36,"i":124},{"s":"a","e":441.24,"i":130},{"s":"a","e":441.15,"i":125},{"s":"a","e":441.05,"i":132},{"s":"a","e":440.96,"i":127},{"s":"a","e":440.86,"i":124},{"s":"a","e":440.74,"i":119},{"s":"a","e":440.65,"i":106},{"s":"a","e":440.58,"i":98},{"s":"a","e":440.49,"i":108},{"s":"a","e":440.36,"i":114},{"s":"a","e":440.27,"i":119},{"s":"a","e":440.14,"i":119},{"s":"a","e":440,"i":119}
],
"pdLab":[{"t":"(d) 300℃","e":332.96,"i":815},{"t":"(c) 200℃","e":332.96,"i":603},{"t":"(b) 100℃","e":332.96,"i":418},{"t":"(a) 水素還元後","e":332.96,"i":164}],
"inLab":[{"t":"(d) 300℃","e":441.38,"i":799},{"t":"(c) 200℃","e":441.38,"i":574},{"t":"(b) 100℃","e":441.38,"i":346},{"t":"(a) 水素還元後","e":441.38,"i":151}],
"pdPeak":[{"t":"340.9","e":340.85,"i":890},{"t":"335.6","e":335.77,"i":958},{"t":"340.6","e":340.82,"i":741},{"t":"335.4","e":335.51,"i":811},{"t":"341","e":341.13,"i":545},{"t":"335.8","e":335.72,"i":603},{"t":"340.8","e":340.81,"i":343},{"t":"335.5","e":335.64,"i":435}],
"inPeak":[{"t":"451.5","e":451.14,"i":871},{"t":"443.9","e":443.8,"i":968},{"t":"451.3","e":451.3,"i":690},{"t":"443.7","e":443.84,"i":765},{"t":"451.8","e":451.68,"i":476},{"t":"444.1","e":444.04,"i":567},{"t":"451.1","e":450.65,"i":241},{"t":"443.6","e":444.08,"i":362}],
"pdBar":[{"e":344.63,"i":818,"i2":940}],
"pdHead":[{"e":344.63,"i":975,"dir":"up"},{"e":344.63,"i":783,"dir":"down"}],
"pdBarT":[{"e":344.47,"i":853,"t":"500"}],
"inBar":[{"e":454.44,"i":755,"i2":931}],
"inHead":[{"e":454.44,"i":966,"dir":"up"},{"e":454.44,"i":720,"dir":"down"}],
"inBarT":[{"e":454.37,"i":818,"t":"1000"}]
},
"hconcat":[
{
"width":1281,"height":1022,
"title":{"text":"Pd3d₅/₂, Pd3d₃/₂","anchor":"start","frame":"group","dx":-211,"offset":34,"font":"Liberation Serif","fontSize":67,"fontWeight":"bold","color":"black"},
"encoding":{
"x":{"field":"e","type":"quantitative","scale":{"domain":[330,345],"reverse":true,"nice":false,"zero":false},
"axis":{"values":[345,340,335,330],"format":"d","title":"Binding Energy[eV]","domain":false,"grid":false,"tickSize":-17,"tickWidth":2.6,"tickColor":"black","labelFont":"Liberation Serif","labelFontSize":64,"labelColor":"black","labelPadding":20,"labelFlush":false,"labelOverlap":false,"titleFont":"Liberation Serif","titleFontSize":77,"titleFontWeight":"normal","titleColor":"black","titlePadding":18}},
"y":{"field":"i","type":"quantitative","scale":{"domain":[0,1022],"nice":false,"zero":false},
"axis":{"title":"Intensity[cps]","labels":false,"ticks":false,"domain":false,"grid":false,"titleFont":"DejaVu Serif","titleFontSize":68,"titleFontWeight":"normal","titleColor":"black","titlePadding":84,"titleY":486}}
},
"layer":[
{"data":{"name":"pd"},"mark":{"type":"line","color":"black","strokeWidth":4.2},"encoding":{"detail":{"field":"s"}}},
{"data":{"name":"pdBar"},"mark":{"type":"rule","color":"black","strokeWidth":4.5},"encoding":{"y2":{"field":"i2"}}},
{"data":{"name":"pdHead"},"mark":{"type":"point","filled":true,"color":"black","size":11664,"opacity":1},"encoding":{"shape":{"field":"dir","type":"nominal","scale":{"domain":["up","down"],"range":["M0,0L0.37,1L0,0.75L-0.37,1Z","M0,0L0.37,-1L0,-0.75L-0.37,-1Z"]},"legend":null}}},
{"data":{"name":"pdBarT"},"mark":{"type":"text","font":"Liberation Serif","fontSize":65,"align":"left","baseline":"alphabetic","color":"black"},"encoding":{"text":{"field":"t"}}},
{"data":{"name":"pdPeak"},"mark":{"type":"text","font":"DejaVu Sans","fontSize":44,"align":"center","baseline":"alphabetic","color":"black"},"encoding":{"text":{"field":"t"}}},
{"data":{"name":"pdLab"},"mark":{"type":"text","font":"Liberation Serif, Noto Sans CJK JP","fontSize":66,"fontWeight":"bold","align":"left","baseline":"alphabetic","fill":"white","stroke":"white","strokeWidth":44,"strokeJoin":"round"},"encoding":{"text":{"field":"t"}}},
{"data":{"name":"pdLab"},"mark":{"type":"text","font":"Liberation Serif, Noto Sans CJK JP","fontSize":66,"fontWeight":"bold","align":"left","baseline":"alphabetic","color":"black"},"encoding":{"text":{"field":"t"}}}
]
},
{
"width":1269,"height":1022,
"title":{"text":"In3d₅/₂","anchor":"start","frame":"group","dx":-59,"offset":34,"font":"Liberation Serif","fontSize":67,"fontWeight":"bold","color":"black"},
"encoding":{
"x":{"field":"e","type":"quantitative","scale":{"domain":[440,455],"reverse":true,"nice":false,"zero":false},
"axis":{"values":[455,450,445,440],"format":"d","title":"Binding Energy[eV]","domain":false,"grid":false,"tickSize":-17,"tickWidth":2.6,"tickColor":"black","labelFont":"Liberation Serif","labelFontSize":64,"labelColor":"black","labelPadding":20,"labelFlush":false,"labelOverlap":false,"titleFont":"Liberation Serif","titleFontSize":82,"titleFontWeight":"normal","titleColor":"black","titlePadding":13,"titleX":675}},
"y":{"field":"i","type":"quantitative","scale":{"domain":[0,1022],"nice":false,"zero":false},"axis":null}
},
"layer":[
{"data":{"name":"ind"},"mark":{"type":"line","color":"black","strokeWidth":4.2},"encoding":{"detail":{"field":"s"}}},
{"data":{"name":"inBar"},"mark":{"type":"rule","color":"black","strokeWidth":4.5},"encoding":{"y2":{"field":"i2"}}},
{"data":{"name":"inHead"},"mark":{"type":"point","filled":true,"color":"black","size":11664,"opacity":1},"encoding":{"shape":{"field":"dir","type":"nominal","scale":{"domain":["up","down"],"range":["M0,0L0.37,1L0,0.75L-0.37,1Z","M0,0L0.37,-1L0,-0.75L-0.37,-1Z"]},"legend":null}}},
{"data":{"name":"inBarT"},"mark":{"type":"text","font":"Liberation Serif","fontSize":65,"align":"left","baseline":"alphabetic","color":"black"},"encoding":{"text":{"field":"t"}}},
{"data":{"name":"inPeak"},"mark":{"type":"text","font":"DejaVu Sans","fontSize":44,"align":"center","baseline":"alphabetic","color":"black"},"encoding":{"text":{"field":"t"}}},
{"data":{"name":"inLab"},"mark":{"type":"text","font":"Liberation Serif, Noto Sans CJK JP","fontSize":66,"fontWeight":"bold","align":"left","baseline":"alphabetic","fill":"white","stroke":"white","strokeWidth":44,"strokeJoin":"round"},"encoding":{"text":{"field":"t"}}},
{"data":{"name":"inLab"},"mark":{"type":"text","font":"Liberation Serif, Noto Sans CJK JP","fontSize":66,"fontWeight":"bold","align":"left","baseline":"alphabetic","color":"black"},"encoding":{"text":{"field":"t"}}}
]
}
]
}
